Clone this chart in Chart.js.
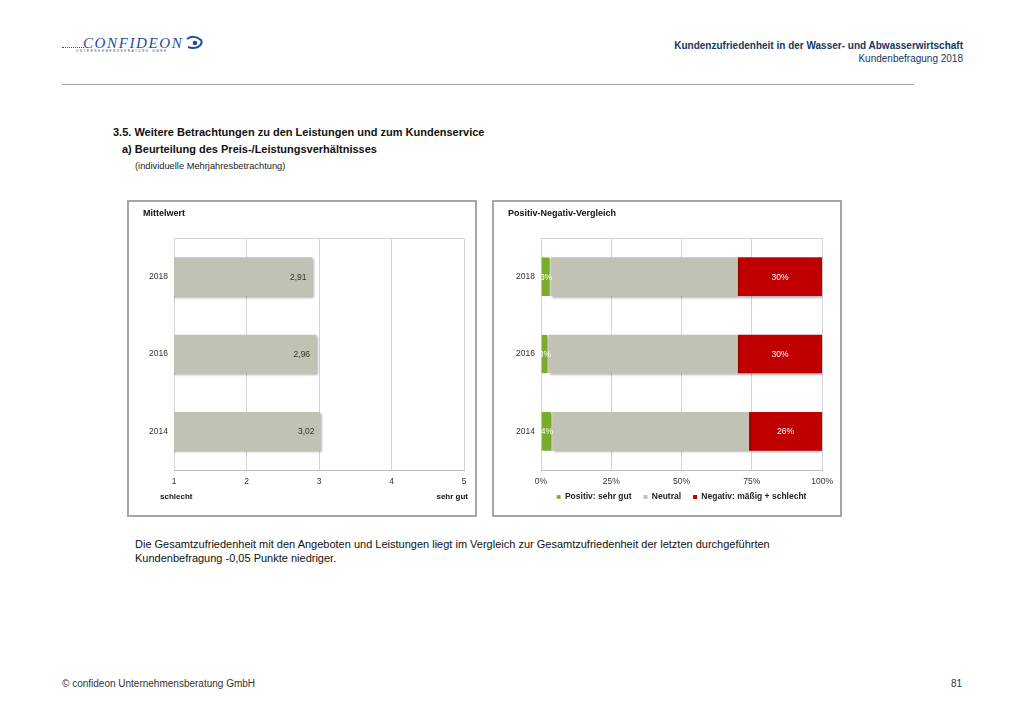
<!DOCTYPE html>
<html lang="de">
<head>
<meta charset="utf-8">
<title>Beurteilung des Preis-/Leistungsverhältnisses</title>
<script src="https://cdn.jsdelivr.net/npm/chart.js@4"></script>
<style>
  body { margin: 0; background: #fff; font-family: "Liberation Sans", Arial, sans-serif; }
  #page { position: relative; width: 1024px; height: 719px; overflow: hidden; }
  .t { position: absolute; white-space: nowrap; line-height: 1; }
  .panel { position: absolute; top: 200px; width: 350px; height: 317px; border: 2px solid #a6a6a6; box-sizing: border-box; }
  .panel canvas { position: absolute; left: 0; top: 0; }
  .navy { color: #17375e; }
</style>
</head>
<body>
<div id="page">
  <!-- logo -->
  <div style="position:absolute;left:62px;top:47px;width:22px;border-bottom:1px dotted #1f4e9c;"></div>
  <div class="t" style="left:83px;top:30px;font-family:'Liberation Serif',serif;font-style:italic;font-variant:small-caps;font-size:22px;letter-spacing:1.6px;color:#1f4e9c;">confideon</div>
  <div class="t" style="left:76px;top:50px;font-size:3px;letter-spacing:1.6px;color:#1f4e9c;">UNTERNEHMENSBERATUNG GMBH</div>
  <svg style="position:absolute;left:184px;top:35px;" width="20" height="16" viewBox="0 0 20 16">
    <path d="M3 4 Q10 -1 17 5 Q19 9 14 12 Q9 14 4 12" fill="none" stroke="#1f4e9c" stroke-width="2"/>
    <circle cx="11" cy="8" r="2.3" fill="#1f4e9c"/>
  </svg>

  <div class="t navy" style="right:61px;top:41px;font-size:10px;font-weight:bold;">Kundenzufriedenheit in der Wasser- und Abwasserwirtschaft</div>
  <div class="t navy" style="right:61px;top:54px;font-size:10px;">Kundenbefragung 2018</div>
  <div style="position:absolute;left:62px;top:84px;width:852px;height:1px;background:#a0a0a0;"></div>

  <div class="t" style="left:113px;top:127px;font-size:11px;font-weight:bold;color:#111;">3.5. Weitere Betrachtungen zu den Leistungen und zum Kundenservice</div>
  <div class="t" style="left:122px;top:144px;font-size:11px;font-weight:bold;color:#111;">a) Beurteilung des Preis-/Leistungsverhältnisses</div>
  <div class="t" style="left:135px;top:162px;font-size:9.3px;color:#222;">(individuelle Mehrjahresbetrachtung)</div>

  <div class="panel" style="left:127px;">
    <canvas id="meanChart" width="346" height="313"></canvas>
  </div>
  <div class="t" style="left:143px;top:209px;font-size:9px;font-weight:bold;color:#111;">Mittelwert</div>
  <div class="t" style="left:160px;top:493px;font-size:8px;font-weight:bold;color:#111;">schlecht</div>
  <div class="t" style="right:556px;top:493px;font-size:8px;font-weight:bold;color:#111;">sehr gut</div>

  <div class="panel" style="left:492px;">
    <canvas id="splitChart" width="346" height="319"></canvas>
  </div>
  <div class="t" style="left:508px;top:209px;font-size:9px;font-weight:bold;color:#111;">Positiv-Negativ-Vergleich</div>

  <div style="position:absolute;left:135px;top:537px;font-size:11px;line-height:14px;color:#111;">
    Die Gesamtzufriedenheit mit den Angeboten und Leistungen liegt im Vergleich zur Gesamtzufriedenheit der letzten durchgeführten<br>
    Kundenbefragung -0,05 Punkte niedriger.
  </div>

  <div class="t" style="left:62px;top:679px;font-size:10px;color:#333;">© confideon Unternehmensberatung GmbH</div>
  <div class="t" style="right:62px;top:679px;font-size:10px;color:#333;">81</div>
</div>

<script>
// data
const years = ['2018', '2016', '2014'];
const meanValues = [2.91, 2.96, 3.02];
const meanTicks = [1, 2, 3, 4, 5];

const seriesNames = ['Positiv: sehr gut', 'Neutral', 'Negativ: mäßig + schlecht'];
const posValues = [3.4, 2.6, 4];
const neutralValues = [66.6, 67.4, 70];
const negValues = [30, 30, 26];
const pctTicks = [0, 25, 50, 75, 100];

Chart.defaults.font.family = '"Liberation Sans", Arial, sans-serif';
Chart.defaults.font.size = 8.5;
Chart.defaults.color = '#333';

const gridColor = '#d4d4d4';
const barGray = '#c1c2b3';

// top edge of the plot frame + soft shadow under the bars
const frame = {
  id: 'frame',
  beforeDatasetsDraw(chart) {
    const { ctx, chartArea: a } = chart;
    ctx.save();
    ctx.strokeStyle = gridColor;
    ctx.lineWidth = 1;
    ctx.beginPath();
    ctx.moveTo(a.left, a.top + 0.5);
    ctx.lineTo(a.right, a.top + 0.5);
    ctx.stroke();
    ctx.restore();
    ctx.save();
    ctx.shadowColor = 'rgba(0,0,0,0.28)';
    ctx.shadowOffsetX = 1.5;
    ctx.shadowOffsetY = 1.5;
    ctx.shadowBlur = 2;
  },
  afterDatasetsDraw(chart) {
    chart.ctx.restore();
  }
};

const valueLabels = {
  id: 'valueLabels',
  afterDatasetsDraw(chart) {
    const ctx = chart.ctx;
    ctx.save();
    ctx.font = '8.5px "Liberation Sans", Arial, sans-serif';
    ctx.textBaseline = 'middle';
    chart.data.datasets.forEach((ds, i) => {
      if (!ds.labelColor) return;
      ctx.fillStyle = ds.labelColor;
      chart.getDatasetMeta(i).data.forEach((bar, j) => {
        const p = bar.getProps(['x', 'y', 'base'], true);
        const txt = ds.labelFormat(ds.data[j]);
        if (ds.labelAlign === 'end') {
          ctx.textAlign = 'right';
          ctx.fillText(txt, p.x - 6, p.y + 0.5);
        } else {
          ctx.textAlign = 'center';
          ctx.fillText(txt, (p.x + p.base) / 2, p.y + 0.5);
        }
      });
    });
    ctx.restore();
  }
};

// pull the legend a little closer to the tick labels
const liftLegend = {
  id: 'liftLegend',
  afterLayout(chart, args, opts) {
    chart.legend.top -= opts.by;
    chart.legend.bottom -= opts.by;
  }
};

new Chart(document.getElementById('meanChart'), {
  type: 'bar',
  data: {
    labels: years,
    datasets: [{
      data: meanValues,
      backgroundColor: barGray,
      barPercentage: 0.5,
      categoryPercentage: 1,
      labelColor: '#333',
      labelAlign: 'end',
      labelFormat: v => v.toFixed(2).replace('.', ',')
    }]
  },
  options: {
    indexAxis: 'y',
    responsive: false,
    animation: false,
    layout: { padding: { top: 36, right: 11, bottom: 0, left: 0 } },
    plugins: { legend: { display: false }, tooltip: { enabled: false } },
    scales: {
      x: {
        min: meanTicks[0],
        max: meanTicks[meanTicks.length - 1],
        afterBuildTicks: s => { s.ticks = meanTicks.map(v => ({ value: v })); },
        afterFit: s => { s.height = 45; },
        grid: { color: gridColor, drawTicks: false },
        border: { color: '#bfbfbf' },
        ticks: { padding: 7 }
      },
      y: {
        afterFit: s => { s.width = 45; },
        grid: { display: false, drawTicks: false },
        border: { display: false },
        ticks: { padding: 6 }
      }
    }
  },
  plugins: [frame, valueLabels]
});

const pctLabel = v => Math.round(v) + '%';

new Chart(document.getElementById('splitChart'), {
  type: 'bar',
  data: {
    labels: years,
    datasets: [
      { label: seriesNames[0], data: posValues, backgroundColor: '#78ac2a', borderColor: '#ffffff',
        borderWidth: { right: 1 }, borderSkipped: false, labelColor: '#ffffff', labelFormat: pctLabel },
      { label: seriesNames[1], data: neutralValues, backgroundColor: barGray },
      { label: seriesNames[2], data: negValues, backgroundColor: '#c00000', labelColor: '#ffffff', labelFormat: pctLabel }
    ]
  },
  options: {
    indexAxis: 'y',
    responsive: false,
    animation: false,
    datasets: { bar: { barPercentage: 0.5, categoryPercentage: 1 } },
    layout: { padding: { top: 36, right: 16, bottom: 0.5, left: 0 } },
    plugins: {
      tooltip: { enabled: false },
      liftLegend: { by: 9.25 },
      legend: {
        position: 'bottom',
        fullSize: false,
        labels: {
          boxWidth: 4,
          boxHeight: 4,
          padding: 12,
          color: '#222',
          font: { size: 8.5, weight: 'bold' }
        }
      }
    },
    scales: {
      x: {
        stacked: true,
        min: pctTicks[0],
        max: pctTicks[pctTicks.length - 1],
        afterBuildTicks: s => { s.ticks = pctTicks.map(v => ({ value: v })); },
        afterFit: s => { s.height = 20; },
        grid: { color: gridColor, drawTicks: false },
        border: { color: '#bfbfbf' },
        ticks: { padding: 7, callback: v => v + '%' }
      },
      y: {
        stacked: true,
        afterFit: s => { s.width = 47; },
        grid: { display: false, drawTicks: false },
        border: { display: false },
        ticks: { padding: 6 }
      }
    }
  },
  plugins: [frame, valueLabels, liftLegend]
});
</script>
</body>
</html>
